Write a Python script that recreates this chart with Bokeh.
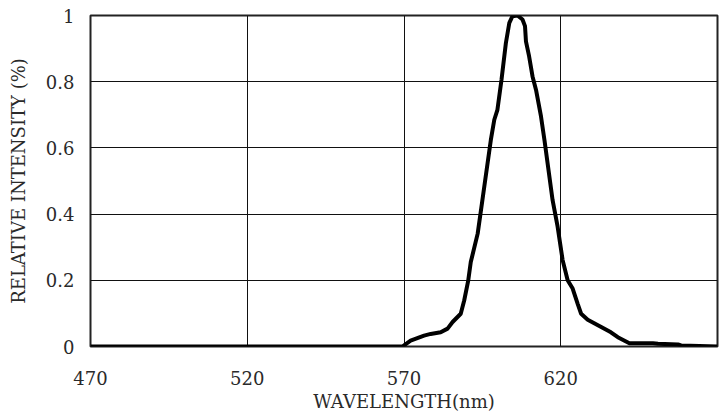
from bokeh.plotting import figure
from bokeh.models import Range1d, FixedTicker
from bokeh.embed import file_html
from bokeh.resources import INLINE

wavelength = [470, 500, 540, 569.5, 572.1, 576.4, 578.5, 581.7, 583.9, 585.5, 588.1,
              589.2, 590.5, 591.3, 593.5, 595.0, 597.7, 598.8, 599.8, 601.1, 602.5,
              603.6, 604.6, 606.2, 607.8, 608.6, 608.9, 609.9, 611.0, 612.1, 613.7,
              614.8, 617.4, 619.0, 620.6, 622.2, 623.8, 625.4, 626.5, 628.6, 632.9,
              636.0, 638.2, 641.9, 649.4, 651.0, 657.4, 658.4, 670]
intensity = [0, 0, 0, 0, 0.018, 0.033, 0.038, 0.043, 0.054, 0.074, 0.099,
             0.139, 0.2, 0.255, 0.341, 0.442, 0.624, 0.685, 0.715, 0.806, 0.917,
             0.978, 0.998, 1.0, 0.988, 0.968, 0.922, 0.877, 0.816, 0.776, 0.695,
             0.624, 0.442, 0.362, 0.261, 0.2, 0.175, 0.129, 0.099, 0.081, 0.059,
             0.043, 0.028, 0.010, 0.010, 0.008, 0.006, 0.003, 0]

x_ticks = [470, 520, 570, 620]
y_ticks = [0, 0.2, 0.4, 0.6, 0.8, 1]
y_labels = {0: "0", 0.2: "0.2", 0.4: "0.4", 0.6: "0.6", 0.8: "0.8", 1: "1"}

FONT = "DejaVu Serif"

p = figure(width=721, height=416, output_backend="svg", toolbar_location=None,
           x_range=Range1d(470, 670), y_range=Range1d(0, 1),
           min_border_left=90, min_border_right=4, min_border_top=15,
           min_border_bottom=70)

p.line(wavelength, intensity, line_color="black", line_width=4)

p.xaxis.ticker = FixedTicker(ticks=x_ticks)
p.yaxis.ticker = FixedTicker(ticks=y_ticks)
p.yaxis.major_label_overrides = y_labels

for ax in (p.xaxis, p.yaxis):
    ax.major_tick_out = 0
    ax.major_tick_in = 0
    ax.minor_tick_out = 0
    ax.minor_tick_in = 0
    ax.axis_line_color = None
    ax.major_label_text_font = FONT
    ax.major_label_text_font_size = "18px"
    ax.major_label_text_color = "#2a2a2a"
    ax.axis_label_text_font = FONT
    ax.axis_label_text_font_size = "18px"
    ax.axis_label_text_font_style = "normal"
    ax.axis_label_text_color = "#2a2a2a"

p.xaxis.axis_label = "WAVELENGTH(nm)"
p.yaxis.axis_label = "RELATIVE INTENSITY (%)"
p.xaxis.major_label_standoff = 24
p.xaxis.axis_label_standoff = 3
p.yaxis.major_label_standoff = 16
p.yaxis.axis_label_standoff = 14

p.xgrid.ticker = FixedTicker(ticks=x_ticks)
p.ygrid.ticker = FixedTicker(ticks=y_ticks)
p.grid.grid_line_color = "#111111"
p.grid.grid_line_width = 1

p.outline_line_color = "#222222"
p.outline_line_width = 2
p.background_fill_color = "white"
p.border_fill_color = "white"

open("out.html", "w").write(file_html(p, INLINE))
